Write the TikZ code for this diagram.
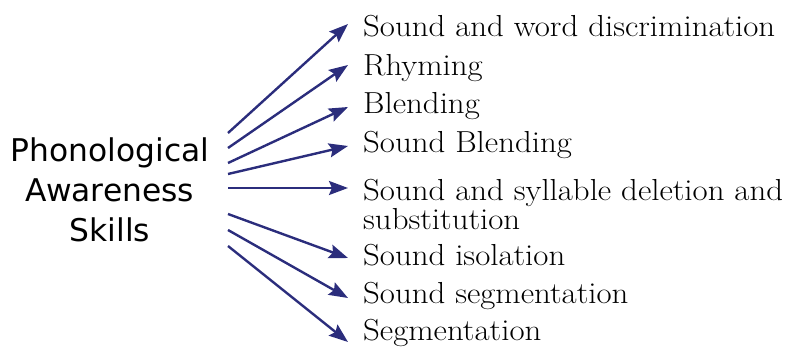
\documentclass[tikz,border=0pt]{standalone}
\usepackage{fontspec}
\usetikzlibrary{arrows.meta}
\newfontfamily\leftsans{DejaVu Sans}
\newfontfamily\skillserif[FakeStretch=1.08]{Latin Modern Roman}
\newcommand{\palfont}{\skillserif\fontsize{30.4}{29}\selectfont}
\definecolor{arrowblue}{RGB}{43,45,124}
\tikzset{
  skill/.style={anchor=base west, inner sep=0pt, font=\palfont, align=left},
  conn/.style={draw=arrowblue, line width=2.4pt, -{Stealth[length=19pt,width=14pt,inset=3pt]}},
  title/.style={inner sep=0pt, font=\leftsans\fontsize{31.3}{40}\selectfont, align=center}
}
\begin{document}
\begin{tikzpicture}[x=1pt,y=-1pt]
\useasboundingbox (0,0) rectangle (785,348);
\node[title] (pas) at (110,190) {Phonological\\Awareness\\Skills};
\node[skill] (t1) at (363,36) {Sound and word discrimination};
\node[skill] (t2) at (363,75) {Rhyming};
\node[skill] (t3) at (363,113) {Blending};
\node[skill] (t4) at (363,152) {Sound Blending};
\node[skill, anchor=north west] (t5) at (363,179) {Sound and syllable deletion and\\substitution};
\node[skill] (t6) at (363,265) {Sound isolation};
\node[skill] (t7) at (363,303) {Sound segmentation};
\node[skill] (t8) at (363,340) {Segmentation};
\coordinate (s1) at (228,133); \coordinate (e1) at (348,24);
\coordinate (s2) at (228,148); \coordinate (e2) at (348,65);
\coordinate (s3) at (228,163); \coordinate (e3) at (348,107);
\coordinate (s4) at (228,174); \coordinate (e4) at (348,146);
\coordinate (s5) at (228,188); \coordinate (e5) at (348,188);
\coordinate (s6) at (228,214); \coordinate (e6) at (348,258);
\coordinate (s7) at (228,230); \coordinate (e7) at (348,298);
\coordinate (s8) at (228,246); \coordinate (e8) at (348,342);
\foreach \i in {1,...,8} \draw[conn] (s\i) -- (e\i);
\end{tikzpicture}
\end{document}
